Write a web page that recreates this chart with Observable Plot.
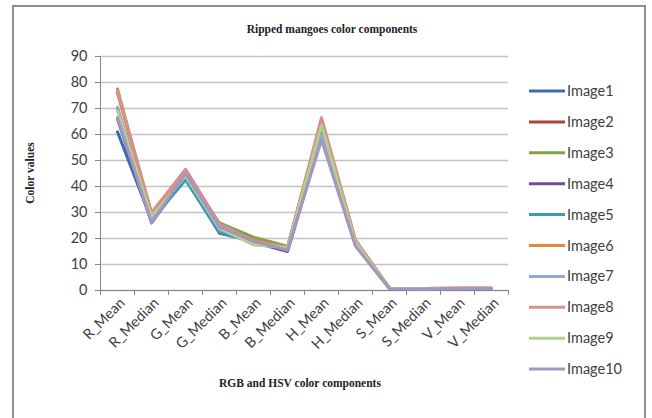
<!DOCTYPE html>
<html><head><meta charset="utf-8">
<script src="https://cdn.jsdelivr.net/npm/d3@7"></script>
<script src="https://cdn.jsdelivr.net/npm/@observablehq/plot@0.6"></script>
<style>
body{margin:0;background:#fff;}
#chart{position:relative;width:652px;height:418px;overflow:hidden;}
</style></head><body><div id="chart"></div>
<script>
const categories = ["R_Mean","R_Median","G_Mean","G_Median","B_Mean","B_Median","H_Mean","H_Median","S_Mean","S_Median","V_Mean","V_Median"];
const seriesNames = ["Image1","Image2","Image3","Image4","Image5","Image6","Image7","Image8","Image9","Image10"];
const seriesColors = ["#3a6bb3","#b0413e","#7ea645","#6e4f94","#3a9bb5","#e8863a","#8fa9d8","#d8908f","#b3cf88","#a395c4"];
const yTicks = [0,10,20,30,40,50,60,70,80,90];

const image1  = [61,   27,   43,   22,   19,   16,   61,   18,   0.8, 0.7, 0.8, 0.8];
const image2  = [76.5, 29.5, 46.5, 25.5, 19.5, 16.5, 65.5, 19,   0.9, 0.8, 0.9, 0.9];
const image3  = [77.5, 28,   43.5, 26,   20.5, 17,   63,   18.5, 0.9, 0.7, 0.8, 0.8];
const image4  = [66,   26,   44,   23,   18.5, 15,   59,   17.5, 0.7, 0.6, 0.8, 0.8];
const image5  = [70,   27,   42.5, 22.5, 18.5, 16,   60,   17.5, 0.8, 0.7, 0.8, 0.8];
const image6  = [76,   29,   46,   25,   19.5, 16.5, 65,   19,   0.9, 0.8, 0.9, 0.9];
const image7  = [70.5, 27.5, 44.5, 23.5, 18,   16.5, 59.5, 18,   0.8, 0.7, 0.8, 0.8];
const image8  = [77,   30,   46.5, 25.5, 19,   16.5, 66.5, 19.5, 0.9, 0.8, 0.9, 0.9];
const image9  = [69,   28.5, 44,   24,   17.5, 16.5, 63.5, 18.5, 0.8, 0.7, 0.8, 0.8];
const image10 = [66.5, 26,   45,   24.5, 19,   15.5, 58,   17,   0.7, 0.6, 0.8, 0.8];
const seriesValues = [image1,image2,image3,image4,image5,image6,image7,image8,image9,image10];

const data = seriesNames.flatMap((s,i)=>seriesValues[i].map((v,j)=>({series:s, category:categories[j], value:v})));

const axisGray = "#868686";
const chart = Plot.plot({
  width:652, height:418,
  marginLeft:100, marginRight:144, marginTop:56, marginBottom:128,
  style:{fontFamily:"Lato, 'Liberation Sans', sans-serif", background:"transparent", overflow:"visible"},
  x:{type:"point", domain:categories, padding:0.5, axis:null},
  y:{domain:[0,90], axis:null},
  color:{domain:seriesNames, range:seriesColors},
  marks:[
    Plot.gridY(yTicks, {stroke:"#c4c4c4", strokeOpacity:1, strokeWidth:1.4}),
    Plot.axisY(yTicks, {tickSize:5, tickPadding:8, fontSize:14.5, color:"#404040", stroke:axisGray, label:null}),
    Plot.ruleX([categories[0]], {x:d=>d, y1:0, y2:90, dx:-17, stroke:axisGray}),
    Plot.ruleX(categories, {x:d=>d, y1:0, y2:-1.9, dx:17, stroke:axisGray}),
    Plot.ruleX([categories[0]], {x:d=>d, y1:0, y2:-1.9, dx:-17, stroke:axisGray}),
    Plot.ruleY([0], {stroke:axisGray}),
    Plot.line(data, {x:"category", y:"value", z:"series", stroke:"series", strokeWidth:3, strokeLinejoin:"round"}),
    Plot.axisX(categories, {tickSize:0, tickRotate:-45, tickPadding:10, dx:5, fontSize:14.5, color:"#404040", label:null})
  ]
});
document.getElementById("chart").appendChild(chart);

const svg = d3.select(chart);
const colorScale = chart.scale("color");
// outer frame
svg.append("path").attr("d","M13,420V6H645V420").attr("fill","none").attr("stroke","#8e8e8e").attr("stroke-width",2);
const serif = "'Liberation Serif', serif";
// title
svg.append("text").attr("x",332).attr("y",33).attr("text-anchor","middle")
  .attr("font-family",serif).attr("font-weight","bold").attr("font-size",11.5).attr("fill","#222")
  .text("Ripped mangoes color components");
// y label
svg.append("text").attr("transform","translate(34,173) rotate(-90)").attr("text-anchor","middle")
  .attr("font-family",serif).attr("font-weight","bold").attr("font-size",11.5).attr("fill","#222")
  .text("Color values");
// x label
svg.append("text").attr("x",300).attr("y",387).attr("text-anchor","middle")
  .attr("font-family",serif).attr("font-weight","bold").attr("font-size",11.5).attr("fill","#222")
  .text("RGB and HSV color components");
// legend
const lg = svg.append("g").attr("font-family","Lato, 'Liberation Sans', sans-serif").attr("font-size",14.5).attr("fill","#404040").attr("text-anchor","start");
seriesNames.forEach((s,i)=>{
  const y = 91 + i*30.9;
  lg.append("line").attr("x1",529).attr("x2",565).attr("y1",y).attr("y2",y)
    .attr("stroke",colorScale.apply(s)).attr("stroke-width",3);
  lg.append("text").attr("x",567).attr("y",y).attr("dy","0.35em").text(s);
});
</script>
</body></html>
